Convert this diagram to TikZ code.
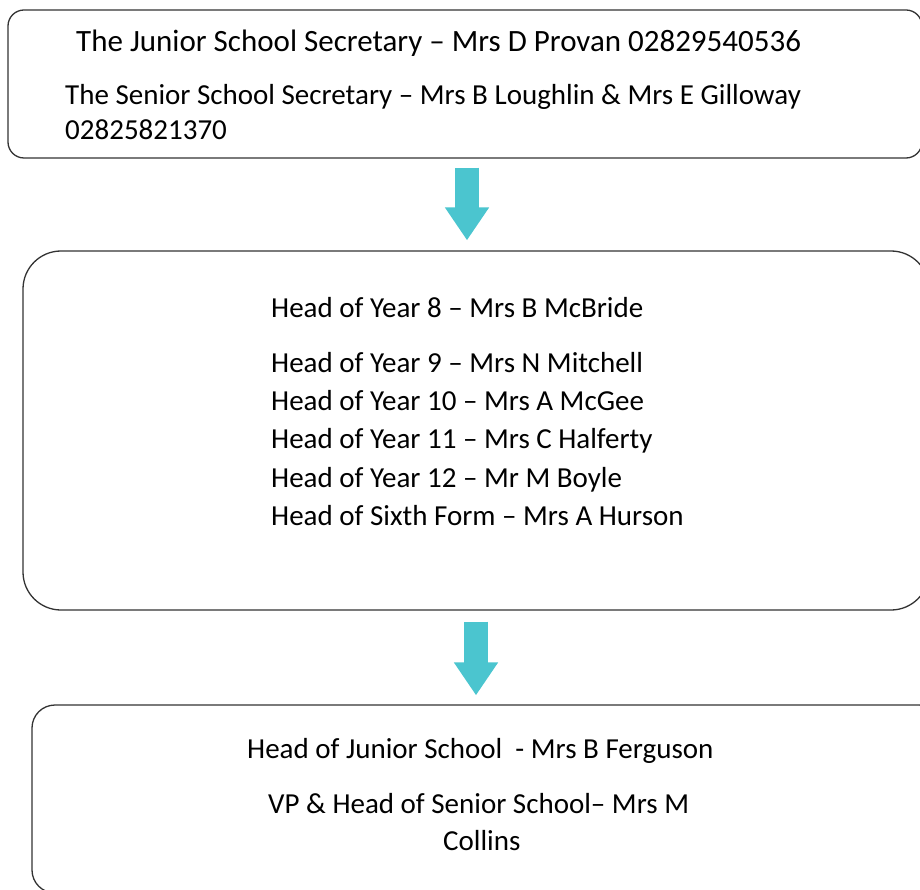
\documentclass[tikz,border=0pt]{standalone}
\usepackage{fontspec}
\setmainfont{Carlito}
\usetikzlibrary{arrows.meta}
\definecolor{arrowteal}{HTML}{4BC5CF}
\tikzset{
  box/.style={draw=black!80, line width=1.3pt, inner sep=0pt},
  txt/.style={anchor=base west, inner sep=0pt, font=\fontsize{29}{34}\selectfont},
  fatarrow/.style={arrowteal, line width=24pt, -{Triangle[width=42pt, length=33pt]}}
}
\begin{document}
\begin{tikzpicture}[x=1pt, y=-1pt]
\clip (0,0) rectangle (920,890);
\useasboundingbox (0,0) rectangle (920,890);
\fill[white] (0,0) rectangle (920,890);

% secretaries
\node[box, rounded corners=16pt, minimum width=914pt, minimum height=148pt] (secbox) at (465,84) {};
\node[txt, font=\fontsize{31}{36}\selectfont] (junsec) at (76,52) {The Junior School Secretary – Mrs D Provan 02829540536};
\node[txt] (sensec) at (65,105) {The Senior School Secretary – Mrs B Loughlin \& Mrs E Gilloway};
\node[txt] (sennum) at (65,140) {02825821370};

% heads of year
\node[box, rounded corners=38pt, minimum width=906pt, minimum height=359pt] (yearbox) at (476,430.5) {};
\node[txt] (year8) at (271,317) {Head of Year 8 – Mrs B McBride};
\node[txt] (year9) at (271,372) {Head of Year 9 – Mrs N Mitchell};
\node[txt] (year10) at (271,410) {Head of Year 10 – Mrs A McGee};
\node[txt] (year11) at (271,448) {Head of Year 11 – Mrs C Halferty};
\node[txt] (year12) at (271,487) {Head of Year 12 – Mr M Boyle};
\node[txt] (sixth) at (271,525) {Head of Sixth Form – Mrs A Hurson};

% heads of school
\node[box, rounded corners=23pt, minimum width=910pt, minimum height=188pt] (headbox) at (487,799) {};
\node[txt] (junhead) at (247,758) {Head of Junior School\ \ - Mrs B Ferguson};
\node[txt] (senhead) at (268,813) {VP \& Head of Senior School– Mrs M};
\node[txt] (collins) at (443,850) {Collins};

\draw[fatarrow] ([xshift=2pt, yshift=-9pt]secbox.south) -- ([xshift=-9pt, yshift=10pt]yearbox.north);
\draw[fatarrow] ([yshift=-11pt]yearbox.south) -- ([xshift=-11pt, yshift=9pt]headbox.north);

\end{tikzpicture}
\end{document}
